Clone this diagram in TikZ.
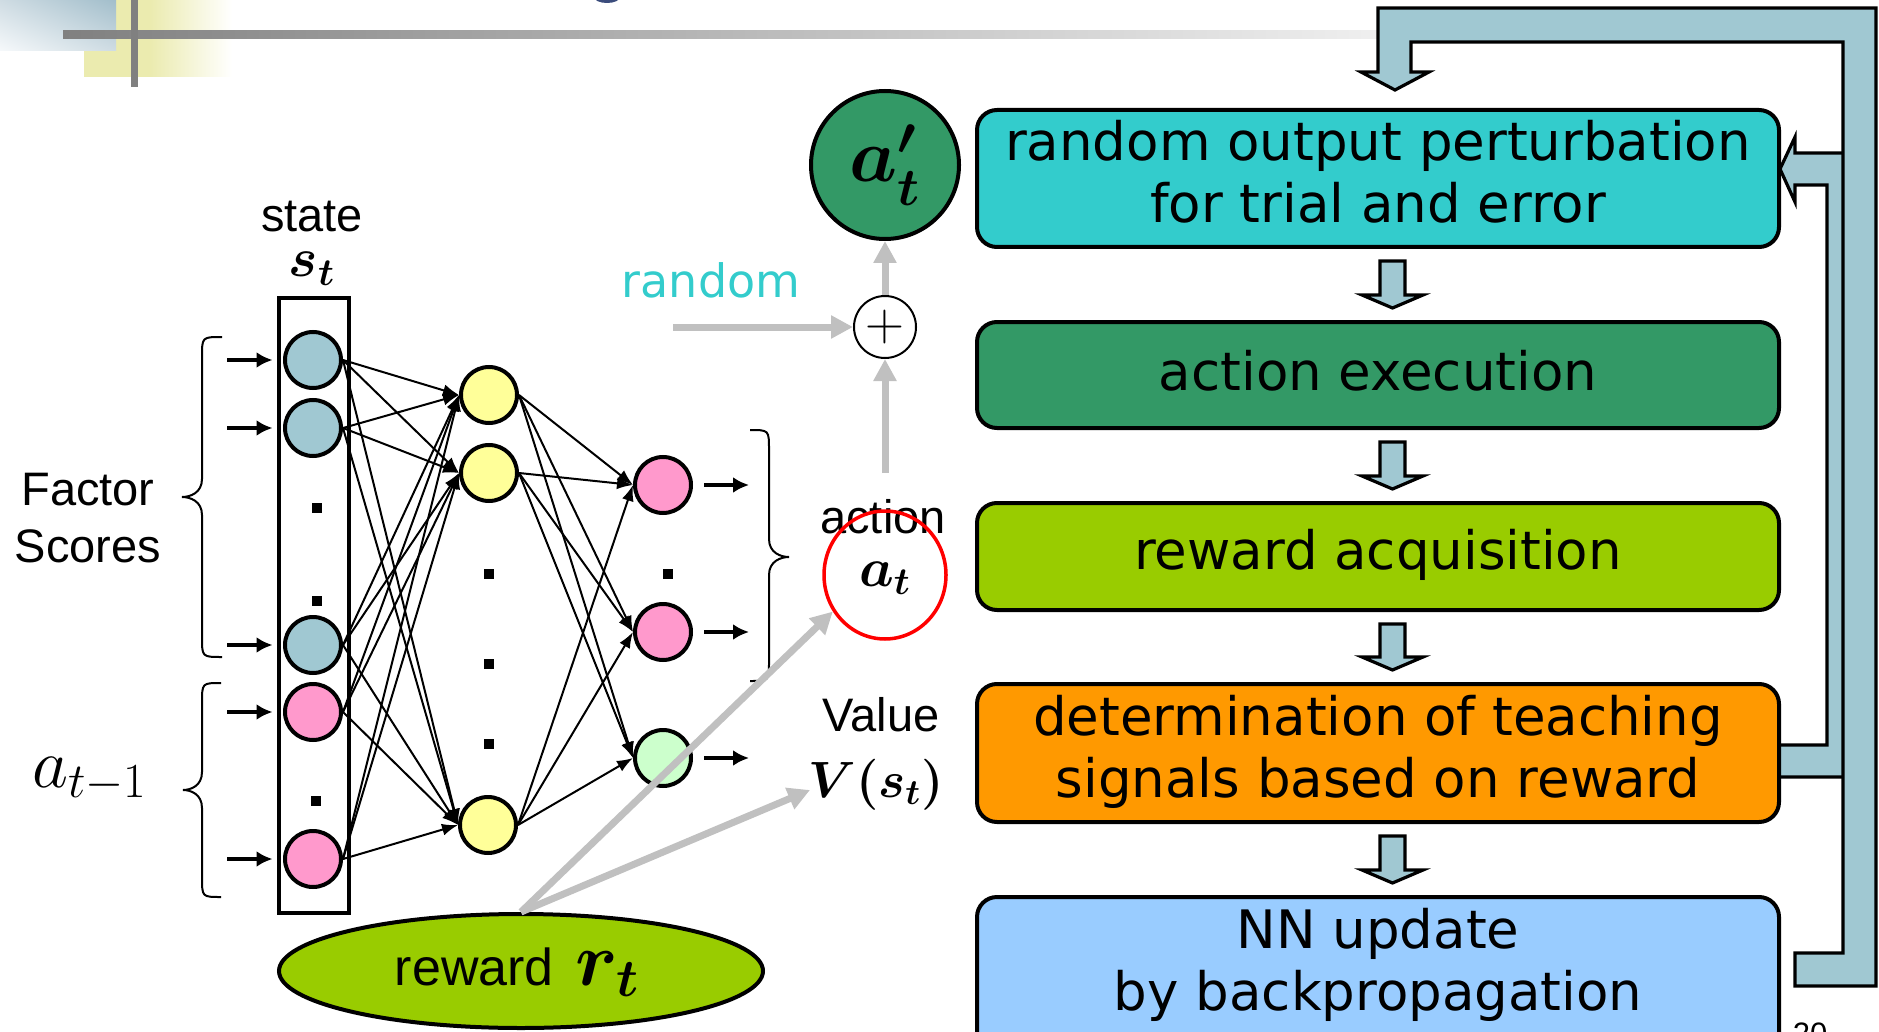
\RequirePackage{fix-cm}
\documentclass[tikz,border=0pt]{standalone}
\usepackage{amsmath}
\usepackage{fontspec}
\newfontfamily\arialf{Liberation Sans}
\newfontfamily\verdf{DejaVu Sans}
\usetikzlibrary{arrows.meta,calc,shapes.geometric,shadings}

\definecolor{nblue}{HTML}{A0C8D2}
\definecolor{npink}{HTML}{FF99CC}
\definecolor{nyellow}{HTML}{FFFF99}
\definecolor{ngreen}{HTML}{CCFFCC}
\definecolor{boxcyan}{HTML}{33CCCC}
\definecolor{boxdgreen}{HTML}{339966}
\definecolor{boxlime}{HTML}{99CC00}
\definecolor{boxorange}{HTML}{FF9900}
\definecolor{boxsky}{HTML}{99CCFF}
\definecolor{flowfill}{HTML}{A0C8D2}
\definecolor{signalgray}{HTML}{C0C0C0}
\definecolor{barlight}{HTML}{F0F0F0}
\definecolor{bardark}{HTML}{808080}
\definecolor{cornerblue}{HTML}{A2BECB}
\definecolor{cornerpale}{HTML}{F6F9FB}
\definecolor{cornermid}{HTML}{CFDCE3}
\definecolor{corneryellow}{HTML}{EBEBAF}
\definecolor{titleblue}{HTML}{3B4C7C}

% curly brace: x of the ends, x of the spine, x of the tip, y top, y tip, y bottom
\newcommand\curly[6]{%
  \draw[bracepath] (#1,#4) .. controls (#2,#4) .. (#2,{#4+20})
    -- (#2,{#5-18}) .. controls (#2,{#5-4}) and ({#3+0.4*(#2-#3)},#5) .. (#3,#5)
    .. controls ({#3+0.4*(#2-#3)},#5) and (#2,{#5+4}) .. (#2,{#5+18})
    -- (#2,{#6-20}) .. controls (#2,#6) .. (#1,#6);}

% short block arrow from one step box down to the next
\newcommand\flowarrow[2]{%
  \filldraw[blockarrow]
    ($(#1.south)+(2,14)$) -- ($(#1.south)+(27,14)$) --
    ($(#2.north)+(27,-27)$) -- ($(#2.north)+(45,-27)$) --
    ($(#2.north)+(14.5,-14)$) -- ($(#2.north)+(-16,-27)$) --
    ($(#2.north)+(2,-27)$) -- cycle;}

\tikzset{
  neuron/.style={circle, draw, line width=2pt, minimum size=28pt, inner sep=0pt},
  flowbox/.style={draw, line width=2pt, rounded corners=10pt, minimum width=401pt,
    outer sep=0pt, inner sep=0pt, align=center, text=black,
    font=\verdf\fontsize{26.5pt}{31pt}\selectfont},
  flowtext/.style={align=center, text=black, font=\verdf\fontsize{26.5pt}{31pt}\selectfont},
  wire/.style={line width=1pt, -{Latex[length=8pt,width=6pt]}},
  inarrow/.style={line width=2pt, -{Latex[length=8pt,width=8pt]}},
  signal/.style={draw=signalgray, line width=3.5pt, -{Triangle[length=11pt,width=11pt]}},
  blockarrow/.style={fill=flowfill, draw=black, line width=1.6pt, line join=miter},
  bracepath/.style={draw, line width=1pt},
  dotsq/.style={fill=black, minimum size=5pt, inner sep=0pt},
  arial/.style={font=\arialf\fontsize{23.5pt}{28.5pt}\selectfont},
}

\begin{document}
\begin{tikzpicture}[x=0.5pt, y=-0.5pt]
\useasboundingbox (0,0) rectangle (1879,1032);
\clip (0,0) rectangle (1879,1032);

% slide corner ornament
\fill[corneryellow] (84,0) rectangle (150,77);
\shade[left color=corneryellow, right color=white] (150,0) rectangle (232,77);
\shade[upper left=cornermid, upper right=cornerblue, lower left=cornerpale, lower right=cornermid]
  (0,0) rectangle (116,51);
\shade[left color=bardark, right color=barlight] (63,31) rectangle (1390,39);
\fill[bardark] (131,0) rectangle (138,87);
\fill[titleblue] (607,-3) ellipse (13 and 6);

% feedback from teaching-signal step back to the perturbation step
\filldraw[blockarrow] (1778,777) -- (1859,777) -- (1859,153) -- (1795,153) -- (1795,137)
  -- (1780,169) -- (1795,202) -- (1795,185) -- (1827,185) -- (1827,745) -- (1778,745) -- cycle;
% loop from the update step back to the top
\filldraw[blockarrow] (1795,953) -- (1843,953) -- (1843,42) -- (1411,42) -- (1411,72)
  -- (1429,72) -- (1395,90) -- (1361,72) -- (1378,72) -- (1378,8) -- (1876,8)
  -- (1876,986) -- (1795,986) -- cycle;

% processing steps
\node[flowbox, fill=boxcyan, minimum height=68.5pt] (b1) at (1378,178.5) {};
\node[flowtext] (b1t) at (1378,172) {random output perturbation\\for trial and error};
\node[flowbox, fill=boxdgreen, minimum height=53pt] (b2) at (1378,375) {};
\node[flowtext] (b2t) at (1378,371) {action execution};
\node[flowbox, fill=boxlime, minimum height=53.5pt] (b3) at (1378,556.5) {};
\node[flowtext] (b3t) at (1378,555) {reward acquisition};
\node[flowbox, fill=boxorange, minimum height=69pt] (b4) at (1378,753) {};
\node[flowtext] (b4t) at (1378,752) {determination of teaching\\signals based on reward};
\node[flowbox, fill=boxsky, minimum height=82pt] (b5) at (1378,979) {};
\node[flowtext] (b5t) at (1378,965) {NN update\\by backpropagation};

\flowarrow{b1}{b2}
\flowarrow{b2}{b3}
\flowarrow{b3}{b4}
\flowarrow{b4}{b5}

% network
\node[draw, line width=2pt, minimum width=35pt, minimum height=307.5pt, inner sep=0pt] (statebox) at (313.5,605.5) {};
\node[neuron, fill=nblue] (s1) at (313,360) {};
\node[neuron, fill=nblue] (s2) at (313,428) {};
\node[neuron, fill=nblue] (s3) at (313,645) {};
\node[neuron, fill=npink] (s4) at (313,712) {};
\node[neuron, fill=npink] (s5) at (313,859) {};
\node[neuron, fill=nyellow] (h1) at (489,395) {};
\node[neuron, fill=nyellow] (h2) at (489,473) {};
\node[neuron, fill=nyellow] (h3) at (488,825) {};
\node[neuron, fill=npink] (o1) at (663,485) {};
\node[neuron, fill=npink] (o2) at (663,632) {};
\node[neuron, fill=ngreen] (o3) at (663,758) {};

\node[dotsq] (sd1) at (317,508) {};
\node[dotsq] (sd2) at (317,601) {};
\node[dotsq] (sd3) at (316,801) {};
\node[dotsq] (hd1) at (489,574) {};
\node[dotsq] (hd2) at (489,664) {};
\node[dotsq] (hd3) at (489,744) {};
\node[dotsq] (od1) at (668,574) {};

\foreach \s in {s1,s2,s3,s4,s5}
  \foreach \h in {h1,h2,h3}
    \draw[wire] (\s.east) -- (\h.west);
\foreach \h in {h1,h2,h3}
  \foreach \o in {o1,o2,o3}
    \draw[wire] (\h.east) -- (\o.west);

\foreach \s/\yy in {s1/360,s2/428,s3/645,s4/712,s5/859} {
  \coordinate (in-\s) at (227,\yy);
  \draw[inarrow, shorten >=2pt] (in-\s) -- (in-\s -| statebox.west);
}
\foreach \o in {o1,o2,o3}
  \draw[inarrow] ($(\o.east)+(11,0)$) -- ($(\o.east)+(56,0)$);

% braces
\curly{222}{202}{182}{337}{497}{657}
\curly{221}{202}{183}{683}{790}{897}
\curly{750}{769}{789}{430}{557}{681}

% labels
\node[arial, anchor=base] (statelbl) at (312,232) {state};
\node[anchor=base, font=\fontsize{27.5pt}{30pt}\selectfont] (stlbl) at (312,277) {$\boldsymbol{s_t}$};
\node[arial, anchor=base] (fac) at (88,505) {Factor};
\node[arial, anchor=base] (sco) at (88,562) {Scores};
\node[anchor=base, font=\fontsize{35pt}{38pt}\selectfont] (aprev) at (90,787) {$a_{t-1}$};
\node[anchor=base, text=boxcyan, font=\verdf\fontsize{23pt}{27pt}\selectfont] (rnd) at (711,298) {random};
\node[arial, anchor=base] (actlbl) at (883,533) {action};
\node[anchor=base, font=\fontsize{27.5pt}{30pt}\selectfont] (atlbl) at (885,586) {$\boldsymbol{a_t}$};
\node[ellipse, draw=red, line width=1.75pt, minimum width=61pt, minimum height=64pt, inner sep=0pt] (atc) at (885,575) {};
\node[arial, anchor=base] (vallbl) at (881,731) {Value};
\node[anchor=base, font=\fontsize{25.5pt}{28pt}\selectfont] (vlbl) at (876,797) {$\boldsymbol{V(s_t)}$};

% perturbed action and summing point
\node[circle, draw, line width=2pt, fill=boxdgreen, minimum size=74pt, inner sep=0pt,
  font=\fontsize{38pt}{40pt}\selectfont] (apr) at (885,165) {$\boldsymbol{a'_t}$};
\node[circle, draw, line width=1pt, fill=white, minimum size=31pt, inner sep=0pt,
  font=\fontsize{27pt}{28pt}\selectfont] (plus) at (885,327) {$+$};

% reward
\node[ellipse, draw, line width=2pt, fill=boxlime, minimum width=242pt, minimum height=57pt, inner sep=0pt] (rew) at (521,971) {};
\node[anchor=base] (rewlbl) at (517,985)
  {{\arialf\fontsize{26pt}{30pt}\selectfont reward}\hspace{11pt}{\fontsize{38pt}{40pt}\selectfont$\boldsymbol{r_t}$}};

% signal arrows
\coordinate (rs) at (673,327);
\coordinate (actup) at (885,473);
\coordinate (vin) at (810,790);
\draw[signal] (rs) -- (plus.west);
\draw[signal] (plus.north) -- (apr.south);
\draw[signal] (actup) -- (plus.south);
\draw[signal] (rew.north) -- (atc.215);
\draw[signal] (rew.north) -- (vin);

% page number
\node[anchor=base, font=\arialf\fontsize{15.5pt}{18pt}\selectfont] (pgno) at (1810,1044) {20};
\end{tikzpicture}
\end{document}
